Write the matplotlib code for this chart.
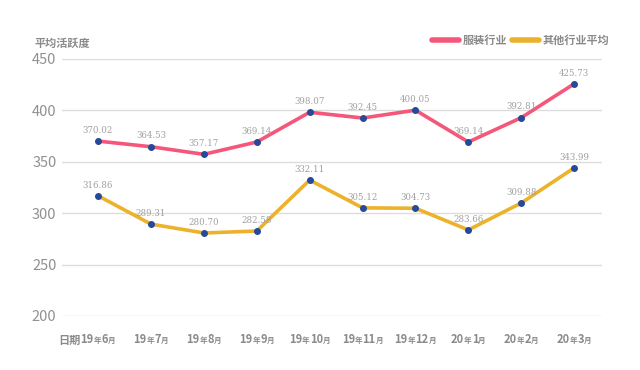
import matplotlib
matplotlib.use('Agg')
import matplotlib.pyplot as plt
from matplotlib.offsetbox import TextArea, HPacker, AnnotationBbox

plt.rcParams['font.family'] = ['Noto Sans CJK SC', 'DejaVu Sans']

# data
years = ['19', '19', '19', '19', '19', '19', '19', '20', '20', '20']
month_nums = ['6', '7', '8', '9', '10', '11', '12', '1', '2', '3']
apparel = [370.02, 364.53, 357.17, 369.14, 398.07, 392.45, 400.05, 369.14, 392.81, 425.73]
others = [316.86, 289.31, 280.70, 282.58, 332.11, 305.12, 304.73, 283.66, 309.88, 343.99]
yticks = [200, 250, 300, 350, 400, 450]

pink = '#F5577A'
yellow = '#EDB22C'
dot = '#254A9A'
grey = '#8A8A8A'

fig = plt.figure(figsize=(6.4, 3.7), dpi=100)
ax = fig.add_axes([0.097, 0.146, 0.844, 0.695])

x = list(range(len(month_nums)))
ax.plot(x, apparel, color=pink, lw=2.6, zorder=3, solid_capstyle='round')
ax.plot(x, others, color=yellow, lw=2.6, zorder=3, solid_capstyle='round')
ax.scatter(x, apparel, s=16, color=dot, zorder=4)
ax.scatter(x, others, s=16, color=dot, zorder=4)

for xi, v in zip(x, apparel):
    ax.annotate('%.2f' % v, (xi, v), xytext=(0, 4.5), textcoords='offset points',
                ha='center', va='bottom', fontsize=6.2, color='#A0A0A0',
                family='DejaVu Serif')
for xi, v in zip(x, others):
    ax.annotate('%.2f' % v, (xi, v), xytext=(0, 4.5), textcoords='offset points',
                ha='center', va='bottom', fontsize=6.2, color='#A0A0A0',
                family='DejaVu Serif')

ax.set_ylim(200, 450)
ax.set_xlim(-0.68, 9.53)
ax.set_yticks(yticks)
ax.set_yticklabels([str(t) for t in yticks], fontsize=10.5, color='#909090')
ax.grid(axis='y', color='#DDDDDD', lw=1)
ax.set_axisbelow(True)
ax.set_xticks(x)
ax.set_xticklabels([])
ax.tick_params(axis='x', length=0)
ax.tick_params(axis='y', length=0, pad=4)
for s in ax.spines.values():
    s.set_visible(False)

# x labels with small 年/月 characters
big = dict(size=8, color=grey, weight='bold')
small = dict(size=5.5, color=grey, weight='bold')
for xi, yy, mm in zip(x, years, month_nums):
    parts = [TextArea(yy, textprops=big), TextArea('年', textprops=small),
             TextArea(mm, textprops=big), TextArea('月', textprops=small)]
    box = HPacker(children=parts, align='baseline', pad=0, sep=0)
    ab = AnnotationBbox(box, (xi, 0), xycoords=ax.get_xaxis_transform(),
                        xybox=(0, -17), boxcoords='offset points',
                        frameon=False, box_alignment=(0.5, 0.5))
    ax.add_artist(ab)

fig.text(0.054, 0.872, '平均活跃度', fontsize=8, color=grey, fontweight='bold')
fig.text(0.125, 0.081, '日期', fontsize=8, color=grey, fontweight='bold',
         va='center', ha='right')

# legend drawn by hand at top right
fig.add_artist(plt.Line2D([0.675, 0.717], [0.892, 0.892], color=pink, lw=4,
                          solid_capstyle='round'))
fig.text(0.723, 0.892, '服装行业', fontsize=8, color=grey, fontweight='bold', va='center')
fig.add_artist(plt.Line2D([0.800, 0.842], [0.892, 0.892], color=yellow, lw=4,
                          solid_capstyle='round'))
fig.text(0.848, 0.892, '其他行业平均', fontsize=8, color=grey, fontweight='bold', va='center')

fig.savefig('out.png', dpi=100)
